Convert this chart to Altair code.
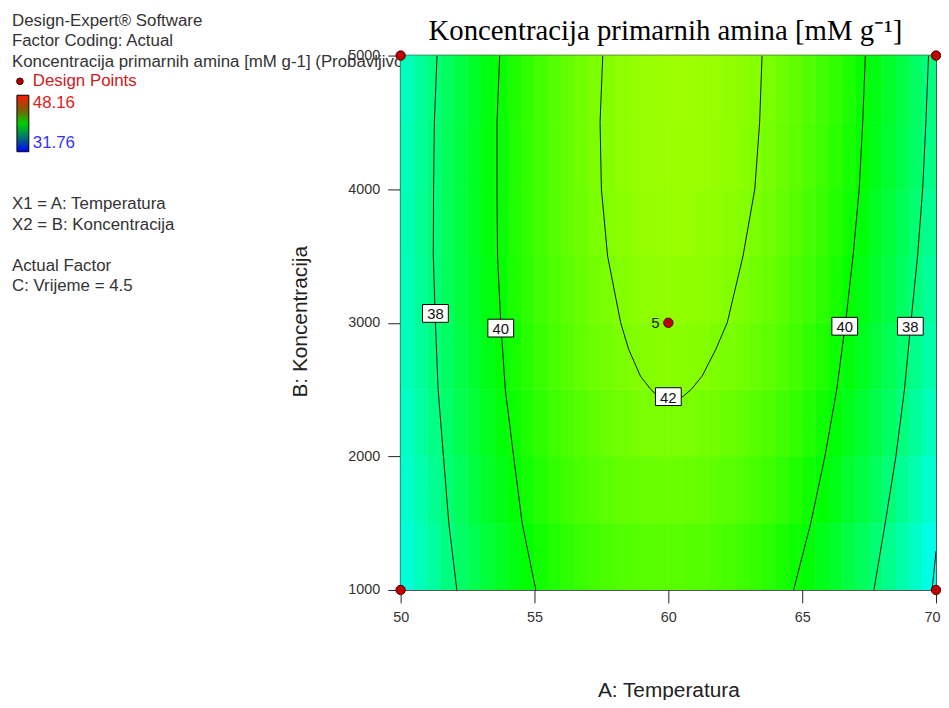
import altair as alt
import pandas as pd

# ---------------- data ----------------
# heat-map cell edges (A: Temperatura, B: Koncentracija)
temp_edges = [50.0, 50.5, 51.0, 51.5, 52.0, 52.5, 53.0, 53.5, 54.0, 54.5,
              55.0, 55.5, 56.0, 56.5, 57.0, 57.5, 58.0, 58.5, 59.0, 59.5,
              60.0, 60.5, 61.0, 61.5, 62.0, 62.5, 63.0, 63.5, 64.0, 64.5,
              65.0, 65.5, 66.0, 66.5, 67.0, 67.5, 68.0, 68.5, 69.0, 69.5, 70.0]
conc_edges = [1000, 1500, 2000, 2500, 3000, 3500, 4000, 4500, 5000]

# estimated response (Koncentracija primarnih amina) per cell, bottom row first
resp_1250 = [36.47, 36.96, 37.43, 37.88, 38.30, 38.69, 39.05, 39.39, 39.70, 39.99, 40.25, 40.48, 40.69, 40.87, 41.02, 41.15, 41.25, 41.32, 41.37, 41.39,
             41.38, 41.35, 41.29, 41.21, 41.10, 40.96, 40.79, 40.60, 40.38, 40.14, 39.87, 39.57, 39.25, 38.90, 38.52, 38.12, 37.69, 37.23, 36.75, 36.24]
resp_1750 = [36.67, 37.17, 37.65, 38.10, 38.52, 38.92, 39.29, 39.63, 39.95, 40.24, 40.50, 40.74, 40.95, 41.13, 41.29, 41.42, 41.52, 41.60, 41.65, 41.68,
             41.68, 41.65, 41.59, 41.51, 41.40, 41.27, 41.11, 40.92, 40.71, 40.47, 40.20, 39.91, 39.59, 39.24, 38.87, 38.47, 38.05, 37.59, 37.12, 36.61]
resp_2250 = [36.83, 37.34, 37.82, 38.27, 38.70, 39.10, 39.47, 39.82, 40.14, 40.44, 40.70, 40.95, 41.16, 41.35, 41.51, 41.65, 41.76, 41.84, 41.90, 41.93,
             41.93, 41.91, 41.86, 41.78, 41.68, 41.55, 41.39, 41.21, 41.00, 40.76, 40.50, 40.21, 39.90, 39.56, 39.19, 38.80, 38.38, 37.93, 37.45, 36.95]
resp_2750 = [36.95, 37.46, 37.94, 38.40, 38.83, 39.24, 39.61, 39.97, 40.29, 40.59, 40.86, 41.11, 41.33, 41.52, 41.69, 41.83, 41.94, 42.03, 42.09, 42.12,
             42.13, 42.11, 42.07, 41.99, 41.89, 41.77, 41.62, 41.44, 41.24, 41.00, 40.75, 40.46, 40.15, 39.81, 39.45, 39.06, 38.64, 38.20, 37.73, 37.24]
resp_3250 = [37.01, 37.53, 38.02, 38.48, 38.91, 39.32, 39.71, 40.06, 40.39, 40.69, 40.97, 41.22, 41.45, 41.64, 41.81, 41.96, 42.07, 42.17, 42.23, 42.27,
             42.28, 42.27, 42.22, 42.16, 42.06, 41.94, 41.79, 41.62, 41.42, 41.19, 40.94, 40.66, 40.35, 40.02, 39.66, 39.28, 38.86, 38.42, 37.96, 37.47]
resp_3750 = [37.04, 37.56, 38.05, 38.52, 38.96, 39.37, 39.76, 40.12, 40.45, 40.76, 41.04, 41.29, 41.52, 41.72, 41.90, 42.05, 42.17, 42.26, 42.33, 42.37,
             42.39, 42.38, 42.34, 42.28, 42.19, 42.07, 41.93, 41.76, 41.56, 41.34, 41.09, 40.82, 40.51, 40.19, 39.83, 39.45, 39.04, 38.61, 38.15, 37.66]
resp_4250 = [37.01, 37.54, 38.03, 38.50, 38.95, 39.37, 39.76, 40.12, 40.46, 40.77, 41.06, 41.32, 41.55, 41.76, 41.94, 42.09, 42.22, 42.32, 42.39, 42.44,
             42.46, 42.45, 42.42, 42.36, 42.28, 42.17, 42.03, 41.86, 41.67, 41.45, 41.21, 40.94, 40.64, 40.32, 39.97, 39.59, 39.19, 38.76, 38.30, 37.82]
resp_4750 = [36.94, 37.47, 37.97, 38.45, 38.90, 39.32, 39.72, 40.09, 40.43, 40.75, 41.04, 41.30, 41.54, 41.75, 41.93, 42.09, 42.22, 42.32, 42.40, 42.45,
             42.48, 42.48, 42.45, 42.39, 42.31, 42.20, 42.07, 41.91, 41.72, 41.51, 41.27, 41.00, 40.71, 40.39, 40.04, 39.67, 39.27, 38.85, 38.39, 37.92]
response_rows = [resp_1250, resp_1750, resp_2250, resp_2750, resp_3250, resp_3750, resp_4250, resp_4750]

# contour lines (temperature positions read at each concentration)
line_conc = [1000, 1500, 2000, 2500, 3000, 3500, 4000, 4500, 5000]
c38_left = [52.10, 51.80, 51.60, 51.40, 51.30, 51.22, 51.23, 51.26, 51.36]
c40_left = [55.05, 54.54, 54.22, 53.91, 53.74, 53.62, 53.60, 53.60, 53.70]
c40_right = [64.68, 65.32, 65.85, 66.29, 66.62, 66.90, 67.13, 67.26, 67.36]
c38_right = [67.68, 68.10, 68.50, 68.82, 69.06, 69.31, 69.50, 69.62, 69.72]
c42_conc = [5000, 4500, 4000, 3500, 3000, 2800, 2600, 2500, 2450, 2430, 2420,
            2430, 2450, 2500, 2600, 2800, 3000, 3500, 4000, 4500, 5000]
c42_temp = [57.55, 57.45, 57.50, 57.73, 58.22, 58.52, 58.96, 59.35, 59.61, 59.81, 60.08,
            60.36, 60.56, 60.85, 61.26, 61.77, 62.20, 62.79, 63.23, 63.41, 63.50]
c36_conc = [1000, 1230, 1290]
c36_temp = [69.85, 69.97, 70.00]

# contour labels
label_temp = [51.30, 53.74, 60.00, 66.59, 69.04]
label_conc = [3070, 2960, 2447, 2974, 2974]
label_text = ["38", "40", "42", "40", "38"]

# design points
dp_temp = [50, 70, 50, 70, 60]
dp_conc = [1000, 1000, 5000, 5000, 3000]
dp_text = ["", "", "", "", "5"]

info_top = ["Design-Expert\u00ae Software", "Factor Coding: Actual",
            "Koncentracija primarnih amina [mM g-1] (Probavljivost)"]
info_factors = ["X1 = A: Temperatura", "X2 = B: Koncentracija"]
info_actual = ["Actual Factor", "C: Vrijeme = 4.5"]
legend_range_values = [31.76, 48.16]
color_stops = [31.76, 35.86, 39.96, 44.06, 48.16]
color_range = ["#0000ff", "#00ffff", "#00ff00", "#ffff00", "#ff0000"]
legend_bar_range = ["#0000ff", "#007070", "#00d000", "#805800", "#ff1a00"]

# ---------------- tables ----------------
cells = []
for j, row in enumerate(response_rows):
    for k, val in enumerate(row):
        cells.append({"t0": temp_edges[k], "t1": temp_edges[k + 1],
                      "c0": conc_edges[j], "c1": conc_edges[j + 1], "val": val})
cells = pd.DataFrame(cells)

lines = []
def add_line(name, temps, concs):
    for i, (t, c) in enumerate(zip(temps, concs)):
        lines.append({"id": name, "ord": i, "temp": t, "conc": c})
add_line("38L", c38_left, line_conc)
add_line("40L", c40_left, line_conc)
add_line("40R", c40_right, line_conc)
add_line("38R", c38_right, line_conc)
add_line("42", c42_temp, c42_conc)
add_line("36R", c36_temp, c36_conc)
lines = pd.DataFrame(lines)

labels = pd.DataFrame({"temp": label_temp, "conc": label_conc, "txt": label_text})
points = pd.DataFrame({"temp": dp_temp, "conc": dp_conc, "txt": dp_text})
legend_df = pd.DataFrame({"v": legend_range_values})

FONT = "Liberation Sans"
xscale = alt.Scale(domain=[50, 70], nice=False, zero=False)
yscale = alt.Scale(domain=[1000, 5000], nice=False, zero=False)
xaxis = alt.Axis(values=[50, 55, 60, 65, 70], title="A: Temperatura", format="d",
                 titleX=270, titleY=101, titleBaseline="middle", labelPadding=8,
                 labelFlush=False,
                 labelAlign={"condition": {"test": "datum.value >= 70", "value": "right"},
                             "value": "center"},
                 labelOffset={"condition": {"test": "datum.value >= 70", "value": 4},
                              "value": 0})
yaxis = alt.Axis(values=[1000, 2000, 3000, 4000, 5000], title="B: Koncentracija",
                 format="d", titleX=-101, titleY=268, titleAngle=270,
                 titleBaseline="middle", titleAlign="center", labelPadding=8,
                 labelFlush=False)
cscale = alt.Scale(domain=color_stops, range=color_range, interpolate="rgb")
lscale = alt.Scale(domain=color_stops, range=legend_bar_range, interpolate="rgb")

# ---------------- layers ----------------
one = pd.DataFrame({"a": [0]})
def info_text(lines_, ypix):
    return alt.Chart(one).mark_text(
        text=lines_, align="left", baseline="middle", font=FONT, fontSize=17,
        lineHeight=20.6, color="#333333"
    ).encode(x=alt.value(-392), y=alt.value(ypix))

text_top = info_text(info_top, -35)
text_factors = info_text(info_factors, 150)
text_actual = info_text(info_actual, 212)
dp_legend_dot = alt.Chart(one).mark_point(
    shape="circle", filled=True, size=45, fill="#b00000", stroke="#4a0000",
    strokeWidth=1, opacity=1
).encode(x=alt.value(-384), y=alt.value(26))
dp_legend_txt = alt.Chart(one).mark_text(
    text="Design Points", align="left", baseline="middle", font=FONT,
    fontSize=17, color="#cc2020"
).encode(x=alt.value(-371), y=alt.value(26))
title_txt = alt.Chart(one).mark_text(
    text="Koncentracija primarnih amina [mM g\u207b\u00b9]", align="center",
    baseline="alphabetic", font="Liberation Serif", fontSize=29, color="black"
).encode(x=alt.value(267), y=alt.value(-16))

legend_layer = alt.Chart(legend_df).mark_point(opacity=0).encode(
    x=alt.value(0), y=alt.value(0),
    fill=alt.Fill("v:Q", scale=lscale, legend=alt.Legend(
        type="gradient", orient="none", legendX=-387, legendY=40,
        direction="vertical", gradientLength=57, gradientThickness=12,
        title=None, values=legend_range_values, format=".2f", labelFont=FONT,
        labelFontSize=17, labelOffset=4, gradientStrokeColor="#000000",
        gradientStrokeWidth=1, padding=0, labelOverlap=False,
        labelColor=alt.expr("datum.value > 40 ? '#e02020' : '#3333ff'"))),
)

def heat_layer():
    return alt.Chart(cells).mark_rect().encode(
        x=alt.X("t0:Q", scale=xscale, axis=xaxis),
        x2="t1:Q",
        y=alt.Y("c0:Q", scale=yscale, axis=yaxis),
        y2="c1:Q",
        fill=alt.Fill("val:Q", scale=cscale, legend=None),
    )

heat = heat_layer()
heat_again = heat_layer()   # second pass hides anti-aliasing seams between cells

contours = alt.Chart(lines).mark_line(
    color="#111111", strokeWidth=1, clip=True
).encode(
    x=alt.X("temp:Q", scale=xscale, axis=xaxis),
    y=alt.Y("conc:Q", scale=yscale, axis=yaxis),
    detail="id:N", order="ord:Q",
)

label_box = alt.Chart(labels).mark_point(
    shape="M-1,-0.69L1,-0.69L1,0.69L-1,0.69Z", size=676, filled=True,
    fill="white", stroke="black", strokeWidth=1, opacity=1
).encode(x=alt.X("temp:Q", scale=xscale, axis=xaxis),
         y=alt.Y("conc:Q", scale=yscale, axis=yaxis))
label_txt = alt.Chart(labels).mark_text(
    font=FONT, fontSize=15, baseline="middle", align="center", color="#111111", dy=1
).encode(x=alt.X("temp:Q", scale=xscale, axis=xaxis),
         y=alt.Y("conc:Q", scale=yscale, axis=yaxis), text="txt:N")

dp = alt.Chart(points).mark_point(
    shape="circle", filled=True, size=90, fill="#c00000", stroke="#4a0000",
    strokeWidth=1, opacity=1
).encode(x=alt.X("temp:Q", scale=xscale, axis=xaxis),
         y=alt.Y("conc:Q", scale=yscale, axis=yaxis))
dp_txt = alt.Chart(points).mark_text(
    font=FONT, fontSize=15, baseline="middle", align="center", dx=-13,
    color="#222222"
).encode(x=alt.X("temp:Q", scale=xscale, axis=xaxis),
         y=alt.Y("conc:Q", scale=yscale, axis=yaxis), text="txt:N")

chart = alt.layer(
    text_top, text_factors, text_actual, dp_legend_dot, dp_legend_txt, title_txt,
    legend_layer, heat, heat_again, contours, label_box, label_txt, dp, dp_txt
).resolve_scale(fill="independent").properties(
    width=540, height=539,
    autosize=alt.AutoSizeParams(type="none"),
    padding={"left": 396, "top": 45, "right": 5, "bottom": 108},
    background="white",
).configure_view(
    stroke="#222222", strokeWidth=1.5
).configure_axis(
    labelFont=FONT, labelFontSize=14.5, labelColor="#333333",
    tickColor="#222222", tickSize=13, tickWidth=1, domain=False, grid=False,
    titleFont=FONT, titleFontSize=21, titleFontWeight="normal",
    titleColor="#222222"
)

chart.save("out.html", embed_options={"renderer": "svg", "actions": False})
